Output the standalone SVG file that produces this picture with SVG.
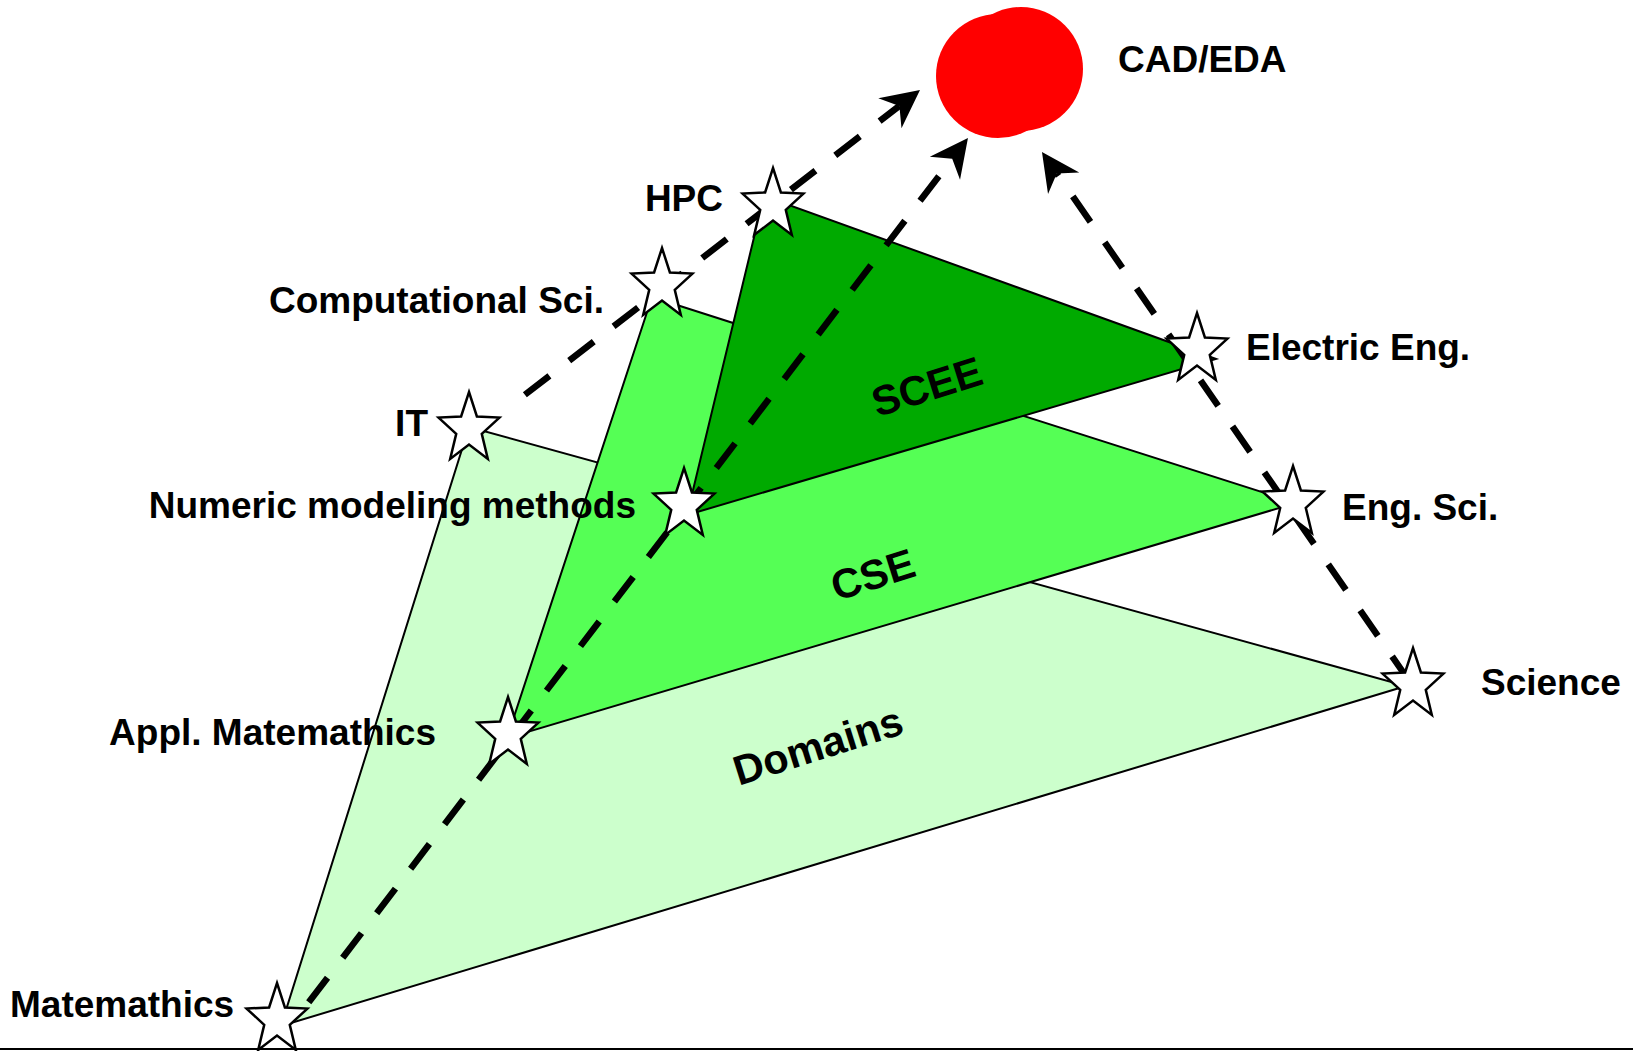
<svg xmlns="http://www.w3.org/2000/svg" xmlns:xlink="http://www.w3.org/1999/xlink" width="1633" height="1051" viewBox="0 0 1633 1051">
<style>
text{font-family:"Liberation Sans",Arial,sans-serif;font-weight:bold;font-size:37px;fill:#000}
.tri{stroke:#000;stroke-width:2;stroke-linejoin:miter}
.star{fill:#fff;stroke:#000;stroke-width:2.5;stroke-linejoin:miter}
.dash{fill:none;stroke:#000;stroke-width:6.5;stroke-dasharray:31 25;marker-start:url(#arr)}
.big{font-size:41.5px}
</style>
<defs>
<marker id="arr" markerUnits="userSpaceOnUse" viewBox="-14 -21 42 42" markerWidth="42" markerHeight="42" refX="0" refY="0" orient="auto-start-reverse" overflow="visible">
<path d="M26,0 L-12,-19 L0,0 L-12,19 Z" fill="#000"/>
</marker>
<path id="star" d="M0,-37 L7.9,-12.57 L30.44,-11.43 L12.78,4.8 L18.81,29.93 L0,15.54 L-18.81,29.93 L-12.78,4.8 L-30.44,-11.43 L-7.9,-12.57 Z"/>
</defs>
<rect width="1633" height="1051" fill="#fff"/>
<line x1="0" y1="1049" x2="1633" y2="1049" stroke="#000" stroke-width="2"/>

<g id="domains">
<polygon class="tri" points="469,427 281,1026 1406,686" fill="#ccffcc"/>
<text class="big" transform="translate(818,746) rotate(-17.5)" text-anchor="middle" dy="14">Domains</text>
</g>
<g id="cse">
<polygon class="tri" points="652,297 507,738 1296,503" fill="#55ff55"/>
<text class="big" transform="translate(873,575) rotate(-17.5)" text-anchor="middle" dy="14">CSE</text>
</g>
<g id="scee">
<polygon class="tri" points="764,196 687,515 1216,359" fill="#00aa00"/>
<text class="big" transform="translate(927,387) rotate(-17.5)" text-anchor="middle" dy="14">SCEE</text>
</g>

<g id="cad-eda">
<circle cx="998" cy="76" r="62" fill="#ff0000"/>
<circle cx="1021" cy="69" r="62" fill="#ff0000"/>
<text x="1118" y="72">CAD/EDA</text>
</g>

<g id="connectors">
<path class="dash" style="stroke-dashoffset:6" d="M899.4,105.9 L522,397"/>
<path class="dash" style="stroke-dashoffset:34" d="M952.2,158.7 L296,1019"/>
<path class="dash" style="stroke-dashoffset:28" d="M1056.8,173.4 L1405,675"/>
</g>

<g id="hpc"><use href="#star" class="star" x="773" y="205"/><text x="723" y="211" text-anchor="end">HPC</text></g>
<g id="comp-sci"><use href="#star" class="star" x="662" y="285"/><text x="604" y="313" text-anchor="end">Computational Sci.</text></g>
<g id="it"><use href="#star" class="star" x="469" y="429"/><text x="428" y="436" text-anchor="end">IT</text></g>
<g id="numeric"><use href="#star" class="star" x="684" y="505"/><text x="636" y="518" text-anchor="end">Numeric modeling methods</text></g>
<g id="appl-math"><use href="#star" class="star" x="508" y="734"/><text x="436" y="745" text-anchor="end">Appl. Matemathics</text></g>
<g id="math"><use href="#star" class="star" x="277" y="1020"/><text x="10" y="1017">Matemathics</text></g>
<g id="electric-eng"><use href="#star" class="star" x="1197" y="350"/><text x="1246" y="360">Electric Eng.</text></g>
<g id="eng-sci"><use href="#star" class="star" x="1293" y="503"/><text x="1342" y="520">Eng. Sci.</text></g>
<g id="science"><use href="#star" class="star" x="1413" y="685"/><text x="1481" y="695">Science</text></g>
</svg>
